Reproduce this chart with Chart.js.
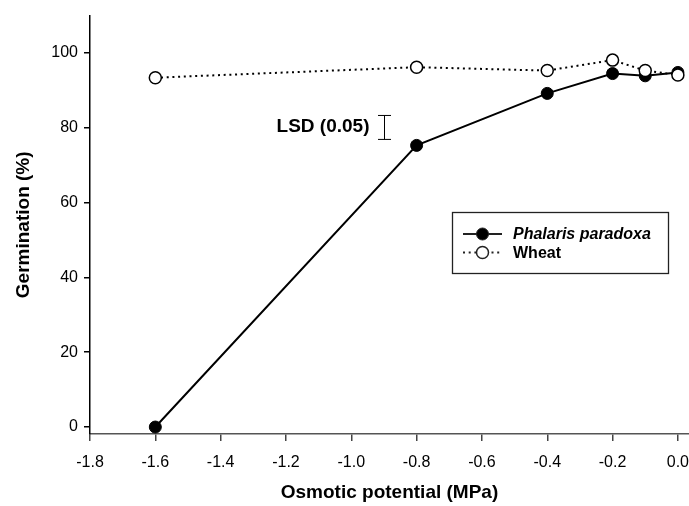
<!DOCTYPE html>
<html>
<head>
<meta charset="utf-8">
<script src="https://cdn.jsdelivr.net/npm/chart.js@4.4.0/dist/chart.umd.min.js"></script>
<style>
  html, body { margin: 0; padding: 0; background: #fff; overflow: hidden; }
  #wrap { width: 689px; height: 506px; }
</style>
</head>
<body>
<div id="wrap"><canvas id="chart"></canvas></div>
<script>
// osmotic potential (MPa) vs germination (%)
const potentials = [-1.6, -0.8, -0.4, -0.2, -0.1, 0.0];
const phalaris = [0, 75.3, 89.2, 94.5, 93.9, 94.8];
const wheat = [93.4, 96.2, 95.3, 98.1, 95.3, 94.1];
const xTicks = [-1.8, -1.6, -1.4, -1.2, -1.0, -0.8, -0.6, -0.4, -0.2, 0.0];
const yTicks = [0, 20, 40, 60, 80, 100];
// LSD bar
const lsdX = -0.9;
const lsdLow = 76.9;
const lsdHigh = 83.3;

const FONT = "'Liberation Sans', Arial, Helvetica, sans-serif";

function pts(ys) {
  return potentials.map((x, i) => ({ x: x, y: ys[i] }));
}

const extras = {
  id: 'extras',
  afterDatasetsDraw(chart) {
    const ctx = chart.ctx;
    const xs = chart.scales.x, ys = chart.scales.y;

    // LSD bar + label
    const bx = Math.round(xs.getPixelForValue(lsdX)) + 0.5;
    const y1 = ys.getPixelForValue(lsdHigh), y2 = ys.getPixelForValue(lsdLow);
    ctx.save();
    ctx.strokeStyle = '#000';
    ctx.lineWidth = 1;
    ctx.beginPath();
    ctx.moveTo(bx, y1); ctx.lineTo(bx, y2);
    ctx.moveTo(bx - 6.5, y1); ctx.lineTo(bx + 6.5, y1);
    ctx.moveTo(bx - 6.5, y2); ctx.lineTo(bx + 6.5, y2);
    ctx.stroke();
    ctx.fillStyle = '#000';
    ctx.font = 'bold 19px ' + FONT;
    ctx.textAlign = 'right';
    ctx.textBaseline = 'middle';
    ctx.fillText('LSD (0.05)', bx - 15, (y1 + y2) / 2 - 1);

    // legend box
    const L = 452.5, T = 212.5, W = 216, H = 61;
    ctx.lineWidth = 1.3;
    ctx.strokeStyle = '#222';
    ctx.strokeRect(L, T, W, H);
    chart.data.datasets.slice().sort((a, b) => a.legendRow - b.legendRow).forEach((ds, i) => {
      const ly = 234 + i * 18.5;
      ctx.beginPath();
      ctx.lineWidth = ds.borderWidth;
      ctx.setLineDash(ds.borderDash || []);
      ctx.moveTo(463, ly); ctx.lineTo(502, ly);
      ctx.stroke();
      ctx.setLineDash([]);
      ctx.beginPath();
      ctx.arc(482.5, ly, ds.pointRadius, 0, Math.PI * 2);
      ctx.fillStyle = ds.pointBackgroundColor;
      ctx.fill();
      ctx.lineWidth = ds.pointBorderWidth;
      ctx.stroke();
      ctx.fillStyle = '#000';
      ctx.textAlign = 'left';
      ctx.font = ds.legendFont + ' 16px ' + FONT;
      ctx.fillText(ds.label, 513, ly + 1);
    });
    ctx.restore();
  }
};

new Chart(document.getElementById('chart'), {
  type: 'scatter',
  data: {
    datasets: [
      {
        label: 'Wheat',
        data: pts(wheat),
        showLine: true,
        borderColor: '#000',
        borderWidth: 2,
        borderDash: [2, 3.7],
        pointRadius: 6,
        pointHoverRadius: 6,
        pointBackgroundColor: '#fff',
        pointBorderColor: '#000',
        pointBorderWidth: 1.5,
        order: 0,
        legendRow: 1,
        legendFont: 'bold'
      },
      {
        label: 'Phalaris paradoxa',
        data: pts(phalaris),
        showLine: true,
        borderColor: '#000',
        borderWidth: 2,
        pointRadius: 6,
        pointHoverRadius: 6,
        pointBackgroundColor: '#000',
        pointBorderColor: '#000',
        pointBorderWidth: 1,
        order: 1,
        legendRow: 0,
        legendFont: 'italic bold'
      }
    ]
  },
  options: {
    responsive: true,
    maintainAspectRatio: false,
    animation: false,
    events: [],
    layout: { autoPadding: false, padding: { top: 12, right: 0, left: 0, bottom: 0 } },
    plugins: {
      legend: { display: false },
      tooltip: { enabled: false }
    },
    scales: {
      x: {
        type: 'linear',
        min: -1.8,
        max: 0.034,
        afterBuildTicks: s => { s.ticks = xTicks.map(v => ({ value: v })); },
        afterFit: s => { s.height = 72; s.paddingRight = 0; s.paddingLeft = 0; },
        grid: { drawOnChartArea: false, drawTicks: true, tickLength: 7, color: '#444', lineWidth: 1.5 },
        border: { color: '#555', width: 1.5 },
        ticks: {
          color: '#000',
          font: { family: FONT, size: 16 },
          padding: 12,
          maxRotation: 0,
          autoSkip: false,
          callback: v => v.toFixed(1)
        },
        title: {
          display: true,
          text: 'Osmotic potential (MPa)',
          color: '#000',
          font: { family: FONT, size: 19, weight: 'bold' },
          padding: { top: 0, bottom: 2 }
        }
      },
      y: {
        type: 'linear',
        min: -1.86,
        max: 110,
        afterBuildTicks: s => { s.ticks = yTicks.map(v => ({ value: v })); },
        afterFit: s => { s.width = 90; },
        grid: { drawOnChartArea: false, drawTicks: true, tickLength: 6, color: '#000', lineWidth: 1.5 },
        border: { color: '#000', width: 1.5 },
        ticks: {
          color: '#000',
          font: { family: FONT, size: 16 },
          padding: 6,
          autoSkip: false
        },
        title: {
          display: true,
          text: 'Germination (%)',
          color: '#000',
          font: { family: FONT, size: 19, weight: 'bold' },
          padding: { top: 12, bottom: 0 }
        }
      }
    }
  },
  plugins: [extras]
});
</script>
</body>
</html>
